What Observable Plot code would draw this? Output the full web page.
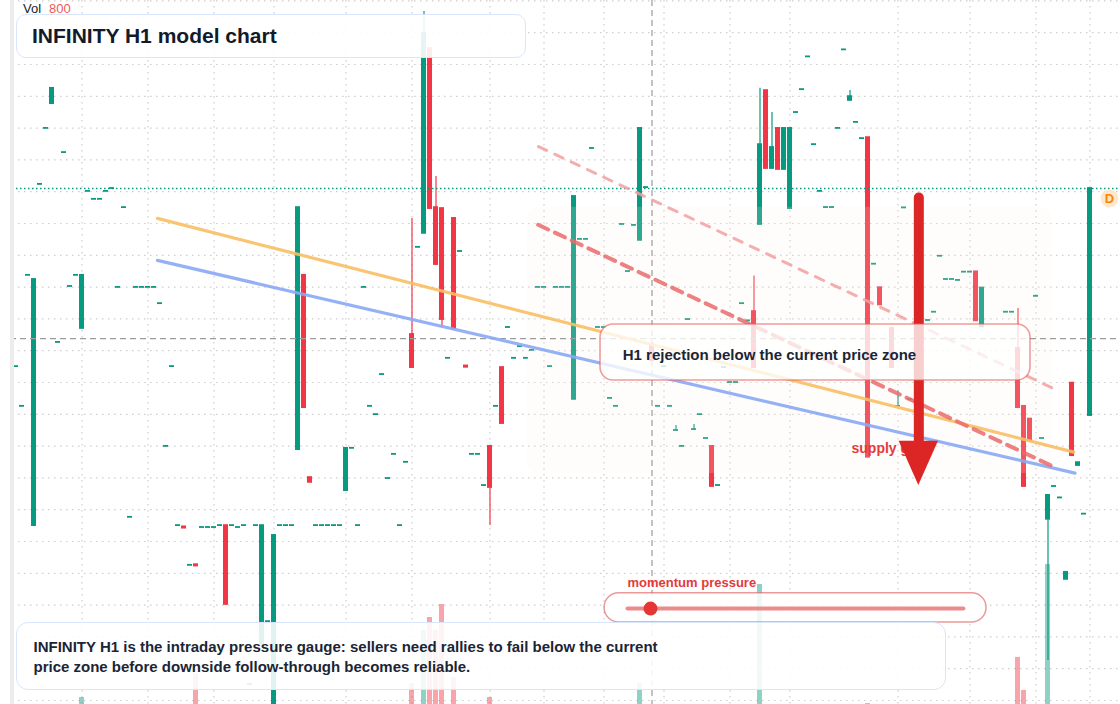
<!DOCTYPE html>
<html><head><meta charset="utf-8">
<script src="https://cdn.jsdelivr.net/npm/d3@7"></script>
<script src="https://cdn.jsdelivr.net/npm/@observablehq/plot@0.6"></script>
<style>
html,body{margin:0;padding:0;background:#fff;}
#wrap{position:relative;width:1120px;height:704px;overflow:hidden;font-family:"Liberation Sans",Arial,Helvetica,sans-serif;}
#wrap svg{position:absolute;left:0;top:0;}
.gutter{position:absolute;left:0;top:0;width:10px;height:704px;background:#fff;}
.strip{position:absolute;left:10px;top:0;width:4px;height:704px;background:#ececec;}
.vol{position:absolute;left:23px;top:1px;font-size:13px;color:#222;white-space:nowrap;}
.vol span{color:#f05a5a;margin-left:8px;}
.title{position:absolute;left:16px;top:14px;width:510px;height:44px;box-sizing:border-box;border:1.5px solid #d9e5fb;border-radius:10px;background:rgba(255,255,255,0.9);display:flex;align-items:center;padding-left:15px;font-weight:bold;font-size:21px;color:#121a2b;}
.caption{position:absolute;left:16px;top:622px;width:930px;height:68px;box-sizing:border-box;border:1.5px solid #d9e5fb;border-radius:12px;background:rgba(255,255,255,0.88);padding:14px 0 0 16.5px;font-weight:bold;font-size:15px;line-height:20px;color:#1b2535;}
</style></head>
<body>
<div id="wrap"></div>
<script>
// ---- data (price units; x = candle index) ----
const closes = [null, null, 205.0, 192.5, 233.7, 232.4, 262.3, 279.9, 292.5, 212.6,
 272.3, 230.2, 233.7, 233.7, 260.1, 257.6, 257.6, 260.1, 261.0, 229.9,
 255.0, 157.6, 229.9, 229.9, 229.9, 229.9, 224.8, 179.9, 205.0, 155.0,
 154.2, 142.5, 142.3, 154.4, 154.4, 154.4, 155.0, 130.2, 155.0, 154.4,
 155.0, 105.0, 155.0, 155.0, 124.8, 151.9, 155.0, 155.0, 155.0, 255.0,
 192.1, 168.6, 155.0, 155.0, 155.0, 155.0, 155.0, 179.3, 179.3, 155.0,
 229.9, 192.5, 189.9, 202.5, 169.8, 177.4, 155.0, 174.9, 204.7, 242.5,
 309.7, 254.7, 237.1, 219.8, 207.6, 217.0, 241.2, 204.8, 177.4, 177.4,
 167.6, 167.0, 192.5, 187.1, 217.3, 207.6, 211.3, 207.6, 210.1, 229.9,
 229.9, 205.0, 229.9, 229.9, 229.9, 258.5, 245.0, 245.0, 273.6, 217.3,
 217.3, 195.0, 192.5, 249.7, 234.9, 249.4, 279.9, 261.3, 206.9, 192.5,
 205.0, 192.5, 184.9, 179.9, 219.8, 185.2, 189.9, 182.4, 167.3, 167.6,
 204.7, 200.0, 200.0, 224.8, 219.4, 204.7, 274.8, 267.3, 273.9, 267.0,
 279.9, 279.9, 284.9, 292.1, 302.4, 274.8, 260.1, 255.0, 255.0, 279.9,
 304.6, 289.9, 281.8, 276.7, 176.5, 237.2, 224.4, null, 204.7, 192.5,
 254.9, 194.6, null, null, 219.5, 222.1, 239.7, 232.4, 232.4, 232.1,
 234.7, 234.7, 219.4, 229.7, null, null, null, 222.1, 222.1, 192.1,
 167.3, 181.9, 227.1, 182.4, 164.5, 167.3, 163.7, 140.3, 177.0, 174.8,
 158.6, 261.0];
// null open = doji (open equals close)
const opens = [null, null, null, null, null, 155.0, null, null, 287.7, null,
 null, null, null, 217.0, null, null, null, null, null, null,
 null, null, null, null, null, null, null, null, null, null,
 154.6, null, 142.7, null, null, null, null, 155.0, null, null,
 null, null, null, 117.9, null, 95.0, null, null, null, 178.9,
 233.7, 170.1, null, null, null, null, null, 166.0, null, null,
 null, null, null, null, null, null, null, null, 215.1, null,
 246.9, 305.0, 255.0, 254.7, null, 251.6, null, 205.2, null, null,
 null, 179.9, null, 204.7, null, null, null, null, null, null,
 null, null, null, null, null, 194.7, null, null, null, null,
 null, null, null, null, null, null, 244.7, null, 212.0, null,
 null, null, null, null, null, null, null, null, 179.9, null,
 null, null, null, null, null, 222.3, 249.7, 291.8, 267.3, 279.9,
 267.0, 254.7, null, null, null, null, null, null, null, null,
 null, 288.7, null, null, 277.0, null, 229.8, null, 217.0, null,
 null, null, null, null, null, null, null, null, null, null,
 null, null, 234.8, 217.5, null, null, null, null, null, 210.7,
 192.5, 188.5, null, null, 157.0, null, null, 138.1, 199.8, 173.9,
 null, 189.6];
const wickIndex = [68, 70, 72, 73, 81, 112, 115, 125, 126, 128, 141, 149, 169, 174];
const wickHigh  = [251.6, 316.7, 264.8, null, null, 186.5, 186.8, 233.5, 292.5, 284.9, 291.8, 197.3, 223.3, null];
const wickLow   = [null, null, null, 217.3, 155.0, null, null, null, null, null, null, null, null, 112.6];
const volIndex = [13, 32, 68, 70, 71, 72, 73, 75, 81, 106, 126, 144, 169, 170, 174];
const volValue = [37, 165, 112, 395, 464, 395, 533, 144, 37, 112, 640, 5, 251, 75, 747];
const priceTicks = d3.range(100, 321, 10);
const timeTicks = [13, 24, 35, 45, 57, 68, 81, 90, 100, 110, 121, 131, 149, 161, 172, 181];
// annotations (index, price)
const zone = {x1: 87.2, x2: 174.7, y1: 171.4, y2: 255.1};
const crosshair = {i: 108, p: 213.8};
const orangeLine = [{i: 25.58, p: 251.6}, {i: 178.3, p: 178.1}];
const blueLine = [{i: 25.58, p: 238.4}, {i: 178.5, p: 171.5}];
const redLine = [{i: 89.03, p: 249.6}, {i: 174.97, p: 173.5}];
const redLineLight = [{i: 89.08, p: 274.2}, {i: 174.7, p: 198.3}];
const arrow = {i: 152.47, top: 258.0, base: 181.5, tip: 167.6, half: 3.28};
const supplyLabel = {i: 141.25, p: 179.3, text: "supply gate"};
const rejectBox = {x1: 99.42, x2: 171.08, y1: 200.63, y2: 218.24, ti: 103.13, tp: 208.7, text: "H1 rejection below the current price zone"};
const momentum = {label: "momentum pressure", li: 103.92, lp: 137.1, x1: 100.1, x2: 163.75, y1: 124.5, y2: 133.7, a: 103.92, b: 159.9, p: 128.9, dot: 107.75};
const badge = {i: 184.25, p: 257.9, text: "D"};

const G = "#089981", R = "#f23645";
const candles = [];
for (let i = 0; i < closes.length; i++) {
  const c = closes[i];
  if (c == null) continue;
  const o = opens[i] == null ? c : opens[i];
  const w = wickIndex.indexOf(i);
  const hi = Math.max(o, c), lo = Math.min(o, c);
  const h = (w >= 0 && wickHigh[w] != null) ? wickHigh[w] : hi;
  const l = (w >= 0 && wickLow[w] != null) ? wickLow[w] : lo;
  candles.push({i, o, c, h, l, color: c >= o ? G : R});
}
const lastClose = closes[closes.length - 1];
const vols = volIndex.map((i, k) => {
  const cd = candles.find(d => d.i === i);
  return {i, v: volValue[k], color: cd ? cd.color : G};
});
const HW = 2.5 / 6;
const xScale = {domain: [-3.5 / 6, 1116.5 / 6], axis: null};
const yScale = {domain: [98.74, 320.13], axis: null};
const font = "Liberation Sans, Arial, Helvetica, sans-serif";
const wrap = document.getElementById("wrap");

const gridPlot = Plot.plot({
  width: 1120, height: 704, margin: 0, x: xScale, y: yScale,
  style: {background: "white"},
  marks: [
    Plot.ruleY(priceTicks, {stroke: "#cdcdcd", strokeWidth: 1.2, strokeDasharray: "1.5,4.5"}),
    Plot.ruleX(timeTicks, {stroke: "#cdcdcd", strokeWidth: 1.2, strokeDasharray: "1.5,4.5"})
  ]
});
const volPlot = Plot.plot({
  width: 1120, height: 704, margin: 0, x: xScale,
  y: {domain: [0, 800], range: [704, 554], axis: null},
  color: {type: "identity"},
  style: {background: "transparent"},
  marks: [
    Plot.rect(vols, {x1: d => d.i - HW, x2: d => d.i + HW, y1: 0, y2: "v", fill: "color", fillOpacity: 0.45})
  ]
});
const mainPlot = Plot.plot({
  width: 1120, height: 704, margin: 0, x: xScale, y: yScale,
  color: {type: "identity"},
  style: {background: "transparent", fontFamily: font},
  marks: [
    Plot.ruleX(candles.filter(d => d.h > Math.max(d.o, d.c) || d.l < Math.min(d.o, d.c)),
      {x: "i", y1: "l", y2: "h", stroke: "color", strokeWidth: 1.2}),
    Plot.rect(candles, {x1: d => d.i - HW, x2: d => d.i + HW, y1: "o", y2: "c", fill: "color",
      insetTop: -0.9, insetBottom: -0.9, clip: true}),
    Plot.rect([zone], {x1: "x1", x2: "x2", y1: "y1", y2: "y2", rx: 12, fill: "#fff1e6", fillOpacity: 0.16}),
    Plot.ruleY([crosshair.p], {stroke: "#9c9c9c", strokeWidth: 1.2, strokeDasharray: "6,4"}),
    Plot.ruleX([crosshair.i], {stroke: "#9c9c9c", strokeWidth: 1.2, strokeDasharray: "6,4"}),
    Plot.ruleY([lastClose], {stroke: G, strokeWidth: 1.6, strokeDasharray: "1.5,2.5"}),
    Plot.line(orangeLine, {x: "i", y: "p", stroke: "#f9bf63", strokeWidth: 3.2, strokeOpacity: 0.9}),
    Plot.line(blueLine, {x: "i", y: "p", stroke: "#8aa8f5", strokeWidth: 3.2, strokeOpacity: 0.9}),
    Plot.line(redLine, {x: "i", y: "p", stroke: "#ea6a6a", strokeWidth: 4, strokeOpacity: 0.85, strokeDasharray: "11,7.5"}),
    Plot.line(redLineLight, {x: "i", y: "p", stroke: "#f2a0a0", strokeWidth: 3, strokeOpacity: 0.85, strokeDasharray: "9,9"}),
    Plot.text([supplyLabel], {x: "i", y: "p", text: "text", textAnchor: "start", fontSize: 14, fontWeight: "bold", fill: "#e53a3a"}),
    Plot.ruleX([arrow], {x: "i", y1: "base", y2: "top", stroke: "#dc2626", strokeWidth: 10, strokeLinecap: "round"}),
    Plot.areaY([
      {x: arrow.i - arrow.half, y1: arrow.base, y2: arrow.base},
      {x: arrow.i, y1: arrow.base, y2: arrow.tip},
      {x: arrow.i + arrow.half, y1: arrow.base, y2: arrow.base}
    ], {x: "x", y1: "y1", y2: "y2", fill: "#dc2626"}),
    Plot.rect([rejectBox], {x1: "x1", x2: "x2", y1: "y1", y2: "y2", rx: 13, fill: "white", fillOpacity: 0.78,
      stroke: "#e25c5c", strokeOpacity: 0.6, strokeWidth: 1.6}),
    Plot.text([rejectBox], {x: "ti", y: "tp", text: "text", textAnchor: "start", fontSize: 15, fontWeight: "bold", fill: "#1b2535"}),
    Plot.text([momentum], {x: "li", y: "lp", text: "label", textAnchor: "start", fontSize: 13, fontWeight: "bold", fill: "#e53a3a"}),
    Plot.rect([momentum], {x1: "x1", x2: "x2", y1: "y1", y2: "y2", rx: 14.5, fill: "white", fillOpacity: 0.85,
      stroke: "#e05555", strokeOpacity: 0.6, strokeWidth: 1.5}),
    Plot.line([{i: momentum.a, p: momentum.p}, {i: momentum.b, p: momentum.p}], {x: "i", y: "p", stroke: "#e87f7f", strokeWidth: 4, strokeOpacity: 0.9}),
    Plot.dot([momentum], {x: "dot", y: "p", r: 7, fill: "#e53535", stroke: "none"}),
    Plot.dot([badge], {x: "i", y: "p", r: 9, fill: "#ffe3c2", fillOpacity: 0.85, stroke: "none"}),
    Plot.text([badge], {x: "i", y: "p", text: "text", fontSize: 13, fontWeight: "bold", fill: "#f5870a"})
  ]
});
wrap.appendChild(gridPlot);
wrap.appendChild(volPlot);
wrap.appendChild(mainPlot);
wrap.insertAdjacentHTML("beforeend",
  '<div class="gutter"></div>' +
  '<div class="strip"></div>' +
  '<div class="vol">Vol<span>800</span></div>' +
  '<div class="title">INFINITY H1 model chart</div>' +
  '<div class="caption">INFINITY H1 is the intraday pressure gauge: sellers need rallies to fail below the current<br>price zone before downside follow-through becomes reliable.</div>');
</script>
</body></html>
